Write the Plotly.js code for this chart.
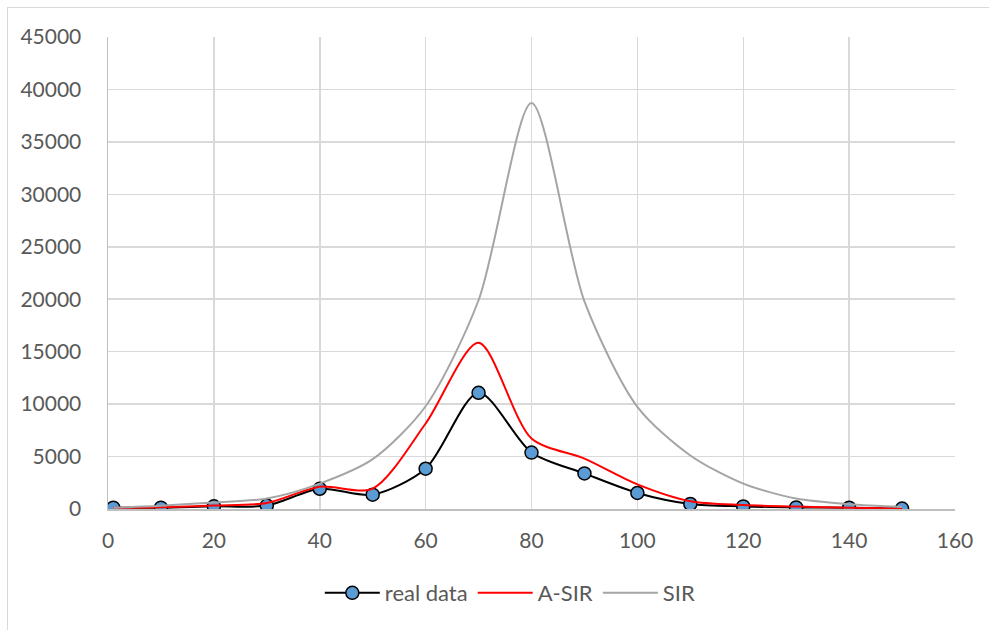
<!DOCTYPE html>
<html>
<head>
<meta charset="utf-8">
<script src="https://cdn.plot.ly/plotly-3.0.1.min.js"></script>
<style>
  html, body { margin: 0; padding: 0; background: #fff; overflow: hidden; }
  #wrap { position: relative; width: 989px; height: 630px; }
  #chart { position: absolute; left: 0; top: 0; width: 989px; height: 630px; }
  #frame { position: absolute; left: 7px; top: 7px; width: 1000px; height: 700px;
           border: 1.5px solid #d9d9d9; pointer-events: none; }
</style>
</head>
<body>
<div id="wrap">
  <div id="chart"></div>
  <div id="frame"></div>
</div>
<script>
const days = [1, 10, 20, 30, 40, 50, 60, 70, 80, 90, 100, 110, 120, 130, 140, 150];
const realData = [130, 130, 260, 330, 1930, 1370, 3840, 11080, 5380, 3390, 1530, 480, 250, 150, 120, 40];
const aSIR = [120, 170, 340, 570, 2120, 1950, 8150, 15850, 6720, 4800, 2350, 740, 380, 230, 130, 40];
const SIR = [130, 320, 630, 1000, 2420, 4750, 9800, 19900, 38700, 19800, 9740, 5100, 2420, 1000, 460, 200];

const names = ["real data", "A-SIR", "SIR"];
const xTicks = [0, 20, 40, 60, 80, 100, 120, 140, 160];
const yTicks = [0, 5000, 10000, 15000, 20000, 25000, 30000, 35000, 40000, 45000];

const FONT = "Lato, 'Open Sans', sans-serif";

const traces = [
  {
    x: days, y: realData, name: names[0], type: "scatter", mode: "lines+markers",
    line: { color: "#000000", width: 2, shape: "spline", smoothing: 0.8 },
    marker: { symbol: "circle", size: 13, color: "#5b9bd5", line: { color: "#000000", width: 1.5 } }
  },
  {
    x: days, y: aSIR, name: names[1], type: "scatter", mode: "lines",
    line: { color: "#ff0000", width: 2, shape: "spline", smoothing: 0.8 }
  },
  {
    x: days, y: SIR, name: names[2], type: "scatter", mode: "lines",
    line: { color: "#a5a5a5", width: 2, shape: "spline", smoothing: 0.8 }
  }
];

const layout = {
  width: 989, height: 630,
  margin: { l: 108, r: 34, t: 37, b: 121, pad: 0 },
  paper_bgcolor: "rgba(0,0,0,0)",
  plot_bgcolor: "#ffffff",
  font: { family: FONT, size: 21, color: "#595959" },
  showlegend: true,
  legend: {
    orientation: "h", x: 0.475, xanchor: "center", y: -0.178, yanchor: "middle",
    font: { family: FONT, size: 22, color: "#595959" },
    traceorder: "normal", itemwidth: 55, tracegroupgap: 0
  },
  xaxis: {
    range: [0, 160], tickvals: xTicks, ticktext: xTicks.map(String),
    showgrid: true, gridcolor: "#d9d9d9", gridwidth: 1.5,
    zeroline: false, showline: true, linecolor: "#bfbfbf", linewidth: 1.5,
    ticks: "", ticklabelstandoff: 12,
    tickfont: { family: FONT, size: 21, color: "#595959" }
  },
  yaxis: {
    range: [0, 45000], tickvals: yTicks, ticktext: yTicks.map(String),
    showgrid: true, gridcolor: "#d9d9d9", gridwidth: 1.5,
    zeroline: false, showline: true, linecolor: "#bfbfbf", linewidth: 1.5,
    ticks: "", ticklabelstandoff: 21,
    tickfont: { family: FONT, size: 21, color: "#595959" }
  }
};

Plotly.newPlot("chart", traces, layout, { displayModeBar: false, staticPlot: true });
</script>
</body>
</html>
